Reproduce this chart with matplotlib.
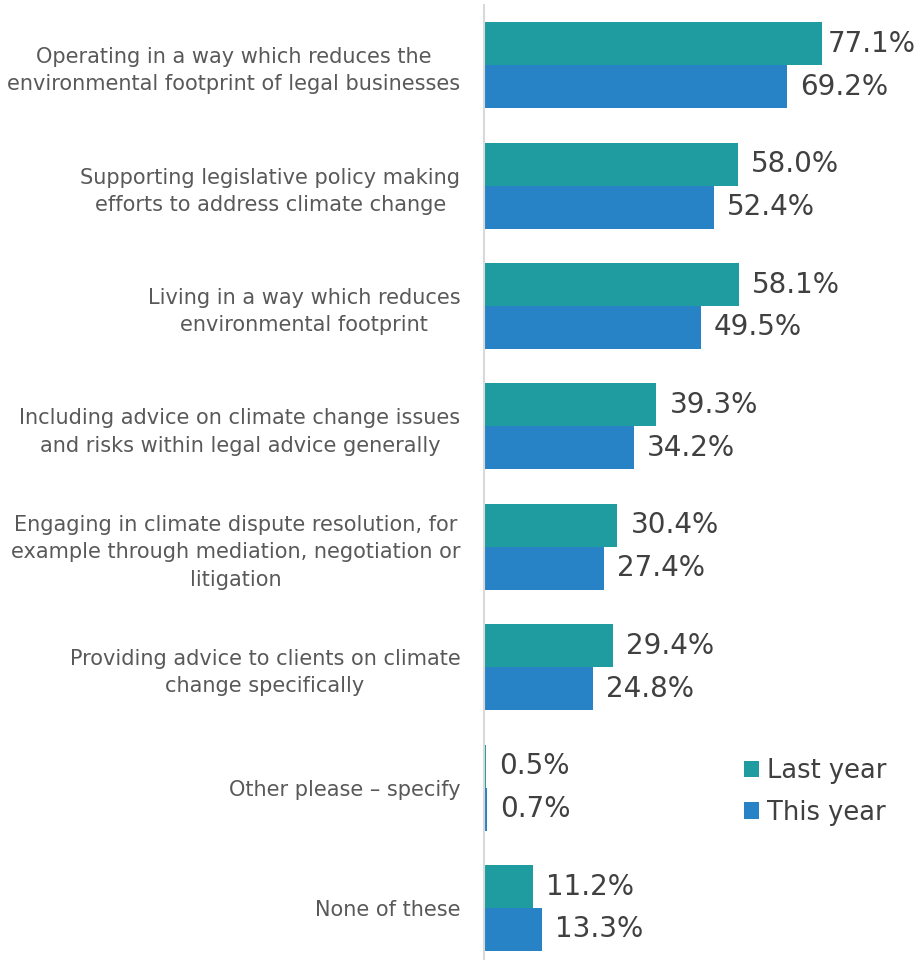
import matplotlib
matplotlib.use("Agg")
import matplotlib.pyplot as plt
import numpy as np

categories = [
    "Operating in a way which reduces the\nenvironmental footprint of legal businesses",
    "Supporting legislative policy making\nefforts to address climate change",
    "Living in a way which reduces\nenvironmental footprint",
    "Including advice on climate change issues\nand risks within legal advice generally",
    "Engaging in climate dispute resolution, for\nexample through mediation, negotiation or\nlitigation",
    "Providing advice to clients on climate\nchange specifically",
    "Other please \u2013 specify",
    "None of these",
]
last_year = [77.1, 58.0, 58.1, 39.3, 30.4, 29.4, 0.5, 11.2]
this_year = [69.2, 52.4, 49.5, 34.2, 27.4, 24.8, 0.7, 13.3]
series_names = ["Last year", "This year"]
colors = ["#1F9C9F", "#2882C6"]

plt.rcParams['font.family'] = ['DejaVu Sans']

W, H = 920, 960
fig = plt.figure(figsize=(W / 100, H / 100), dpi=100)
ax_left, ax_top, ax_bottom = 484, 5, 960
ax = fig.add_axes([ax_left / W, 0, 1 - ax_left / W, (ax_bottom - ax_top) / H])

y = np.arange(len(categories))
bh = 0.357
b1 = ax.barh(y - bh / 2, last_year, height=bh, color=colors[0], label=series_names[0])
b2 = ax.barh(y + bh / 2, this_year, height=bh, color=colors[1], label=series_names[1])

labels = []
for bars, vals in ((b1, last_year), (b2, this_year)):
    for rect, v in zip(bars, vals):
        t = ax.annotate(f"{v:.1f}%", (rect.get_width(), rect.get_y() + rect.get_height() / 2),
                        xytext=(9.5, 0), textcoords="offset points", va="center", ha="left",
                        fontsize=20, color="#404040", annotation_clip=False)
        labels.append(t)

ax.set_xlim(0, 99.5)
slot = 120.4
ax.set_ylim(-0.5 + (ax_bottom - ax_top) / slot, -0.5)
ax.set_yticks(y)
ax.set_yticklabels(categories, fontsize=15, color="#595959", multialignment="center",
                   linespacing=1.45)
ax.tick_params(axis="y", length=0, pad=17)
ax.set_xticks([])
for s in ("top", "right", "bottom"):
    ax.spines[s].set_visible(False)
ax.spines["left"].set_color("#D9D9D9")
ax.spines["left"].set_linewidth(1.5)

leg = ax.legend(loc="center left", bbox_to_anchor=(744 / W, 1 - 792 / H),
                bbox_transform=fig.transFigure, frameon=False, fontsize=18.5,
                handlelength=0.6, handleheight=0.6, handletextpad=0.3,
                labelspacing=0.6, borderpad=0, borderaxespad=0)
for t in leg.get_texts():
    t.set_color("#404040")

# keep value labels inside the figure (as the reference shifts the widest label)
fig.canvas.draw()
r = fig.canvas.get_renderer()
for t in labels:
    bb = t.get_window_extent(r)
    if bb.x1 > W - 4:
        shift = bb.x1 - (W - 4)
        t.set_position((t.get_position()[0] - shift * 72 / 100, 0))

fig.savefig("out.png", dpi=100)
